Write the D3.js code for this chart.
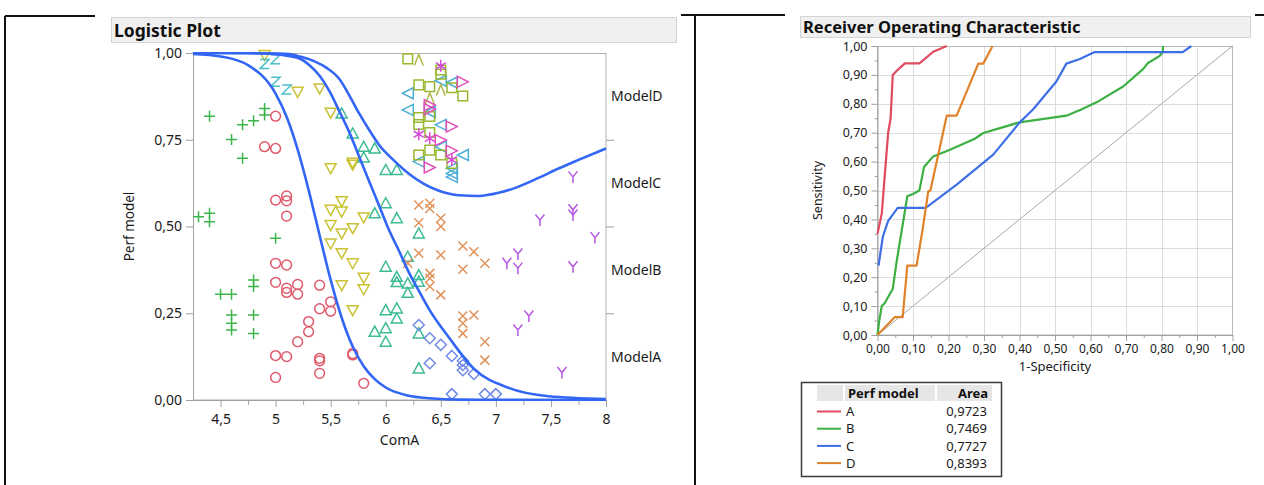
<!DOCTYPE html>
<html><head><meta charset="utf-8">
<script src="https://cdn.jsdelivr.net/npm/d3@7"></script>
<style>body{margin:0;background:#fff}svg{display:block;font-family:"Noto Sans",sans-serif}</style>
</head><body><svg id="c" width="1264" height="485"></svg>
<script>
// ---------------- DATA ----------------
const leftXTickValues = [4.5,5,5.5,6,6.5,7,7.5,8];
const leftXTickLabels = ["4,5","5","5,5","6","6,5","7","7,5","8"];
const leftXMinorTicks = [4.75,5.25,5.75,6.25,6.75,7.25,7.75];
const leftYTickValues = [0,0.25,0.5,0.75,1];
const leftYTickLabels = ["0,00","0,25","0,50","0,75","1,00"];
const levelBoundaries = [0.25,0.5,0.75];
const levelLabels = ["ModelA","ModelB","ModelC","ModelD"];
const levelLabelPos = [0.125,0.375,0.625,0.875];

// fitted cumulative probability curves
const curve1 = [[4.25,0.997],[4.5,0.99],[4.75,0.965],[5.0,0.883],[5.1,0.816],[5.2,0.722],[5.3,0.605],[5.4,0.474],[5.5,0.346],[5.6,0.237],[5.7,0.154],[5.8,0.097],[5.9,0.06],[6.0,0.036],[6.2,0.013],[6.4,0.005],[6.7,0.001],[7.0,0.0003],[8.0,0.0]];
const curve2 = [[4.25,1.0],[4.75,0.9995],[5.066,0.994],[5.217,0.984],[5.308,0.965],[5.398,0.935],[5.489,0.89],[5.579,0.832],[5.669,0.772],[5.76,0.70],[5.85,0.63],[5.94,0.56],[6.03,0.49],[6.12,0.43],[6.21,0.368],[6.30,0.315],[6.393,0.262],[6.574,0.18],[6.80,0.09],[7.116,0.035],[7.478,0.011],[8.0,0.003]];
const curve3 = [[4.25,1.0],[4.75,0.9998],[5.127,0.997],[5.217,0.99],[5.353,0.976],[5.46,0.958],[5.579,0.925],[5.669,0.878],[5.76,0.825],[5.85,0.778],[5.94,0.735],[6.076,0.69],[6.21,0.652],[6.35,0.622],[6.483,0.603],[6.664,0.59],[6.845,0.588],[7.026,0.597],[7.207,0.615],[7.387,0.64],[7.568,0.667],[7.75,0.692],[8.0,0.725]];

// scatter groups  [ComA, jittered prob]
const circlePts = [[5.0,0.818],[4.9,0.73],[5.0,0.725],[5.0,0.576],[5.1,0.588],[5.1,0.574],[5.1,0.53],[5.0,0.394],[5.1,0.389],[5.0,0.339],[5.1,0.322],[5.1,0.31],[5.2,0.333],[5.2,0.305],[5.4,0.331],[5.4,0.263],[5.5,0.283],[5.5,0.256],[5.3,0.226],[5.3,0.197],[5.2,0.168],[5.0,0.128],[5.1,0.125],[5.4,0.12],[5.4,0.113],[5.4,0.077],[5.0,0.065],[5.7,0.134],[5.7,0.13],[5.8,0.048]];
const plusPts = [[4.4,0.818],[4.6,0.751],[4.7,0.793],[4.8,0.805],[4.9,0.84],[4.9,0.821],[4.7,0.697],[4.3,0.528],[4.4,0.538],[4.4,0.514],[5.0,0.466],[4.5,0.305],[4.6,0.305],[4.8,0.346],[4.8,0.327],[4.6,0.245],[4.6,0.221],[4.6,0.202],[4.8,0.245],[4.8,0.192]];
const downTriPts = [[4.9,0.994],[5.2,0.888],[5.4,0.898],[5.5,0.828],[5.5,0.668],[5.7,0.684],[5.7,0.678],[5.6,0.573],[5.5,0.548],[5.6,0.543],[5.8,0.526],[5.5,0.504],[5.6,0.48],[5.7,0.495],[5.5,0.451],[5.6,0.423],[5.7,0.394],[5.8,0.352],[5.8,0.319],[5.6,0.331],[5.7,0.259]];
const zPts = [[4.9,0.968],[5.0,0.982],[5.0,0.917],[5.1,0.895]];
const upTriPts = [[5.6,0.826],[5.7,0.768],[5.8,0.73],[5.9,0.725],[5.8,0.699],[6.0,0.663],[6.1,0.663],[6.0,0.567],[5.9,0.538],[6.1,0.524],[6.3,0.48],[6.2,0.413],[6.0,0.384],[6.1,0.355],[6.1,0.34],[6.2,0.336],[6.3,0.36],[6.3,0.341],[6.2,0.309],[6.0,0.259],[6.1,0.264],[6.1,0.235],[6.0,0.207],[5.9,0.197],[6.0,0.168],[6.3,0.192],[6.3,0.091]];
const diamondPts = [[6.3,0.216],[6.4,0.178],[6.5,0.159],[6.6,0.127],[6.7,0.113],[6.7,0.101],[6.7,0.086],[6.8,0.075],[6.4,0.106],[6.6,0.017],[6.9,0.017],[7.0,0.017]];
const xPts = [[6.3,0.562],[6.4,0.567],[6.4,0.552],[6.3,0.511],[6.5,0.524],[6.5,0.50],[6.3,0.423],[6.5,0.418],[6.7,0.444],[6.8,0.427],[6.7,0.377],[6.9,0.394],[6.4,0.365],[6.4,0.351],[6.4,0.327],[6.5,0.303],[6.7,0.242],[6.8,0.245],[6.7,0.221],[6.7,0.192],[6.9,0.168],[6.9,0.115],[6.2,0.394]];
const yPts = [[7.7,0.643],[7.4,0.519],[7.7,0.548],[7.7,0.533],[7.9,0.468],[7.1,0.394],[7.2,0.421],[7.2,0.38],[7.7,0.384],[7.3,0.242],[7.2,0.202],[7.6,0.079]];
const squarePts = [[6.2,0.983],[6.5,0.951],[6.5,0.939],[6.3,0.908],[6.4,0.903],[6.6,0.90],[6.7,0.876],[6.4,0.817],[6.3,0.814],[6.3,0.794],[6.4,0.771],[6.4,0.72],[6.5,0.706],[6.3,0.706],[6.6,0.682]];
const caretPts = [[6.3,0.98],[6.4,0.869],[6.5,0.893]];
const leftTriPts = [[6.2,0.884],[6.2,0.836],[6.6,0.915],[6.5,0.92],[6.5,0.793],[6.5,0.73],[6.3,0.687],[6.7,0.706],[6.4,0.83],[6.6,0.668],[6.6,0.653],[6.6,0.643]];
const rightTriPts = [[6.7,0.917],[6.6,0.788],[6.5,0.749],[6.6,0.718],[6.4,0.67],[6.4,0.85],[6.4,0.838]];
const starPts = [[6.5,0.963],[6.3,0.766],[6.4,0.754],[6.6,0.692]];

// ROC
const rocTickValues = [0,0.1,0.2,0.3,0.4,0.5,0.6,0.7,0.8,0.9,1];
const rocTickLabels = ["0,00","0,10","0,20","0,30","0,40","0,50","0,60","0,70","0,80","0,90","1,00"];
const rocMinorTicks = [0.05,0.15,0.25,0.35,0.45,0.55,0.65,0.75,0.85,0.95];
const rocA_fpr = [0,0.012,0.03,0.037,0.043,0.055,0.077,0.118,0.157,0.195];
const rocA_tpr = [0.35,0.42,0.70,0.75,0.90,0.915,0.94,0.94,0.98,1.0];
const rocB_fpr = [0,0.005,0.012,0.02,0.043,0.054,0.068,0.084,0.10,0.118,0.131,0.157,0.204,0.274,0.298,0.345,0.40,0.532,0.574,0.617,0.692,0.748,0.762,0.795,0.804,0.804];
const rocB_tpr = [0,0.05,0.10,0.11,0.16,0.255,0.36,0.48,0.488,0.50,0.581,0.618,0.641,0.679,0.699,0.716,0.736,0.759,0.78,0.805,0.86,0.92,0.941,0.966,0.979,1.0];
const rocC_fpr = [0.003,0.015,0.03,0.057,0.136,0.223,0.326,0.40,0.438,0.504,0.532,0.57,0.612,0.86,0.884];
const rocC_tpr = [0.24,0.34,0.395,0.44,0.44,0.52,0.624,0.735,0.78,0.877,0.939,0.955,0.979,0.979,1.0];
const rocD_fpr = [0,0.049,0.071,0.084,0.11,0.127,0.143,0.149,0.195,0.223,0.284,0.298,0.324];
const rocD_tpr = [0,0.062,0.062,0.24,0.24,0.364,0.497,0.50,0.759,0.759,0.939,0.939,1.0];
const perfModels = ["A","B","C","D"];
const areas = ["0,9723","0,7469","0,7727","0,8393"];

// ---------------- DRAW ----------------
const svg = d3.select("#c");
const rocColors = ["#e04a5e","#3cb043","#3f6fe6","#e0822a"];

// outer table frame lines
svg.append("path").attr("d","M5,16H95M5,16V485M681,15H785M695,15V485M1255,15H1264")
  .attr("stroke","#111").attr("stroke-width",2).attr("fill","none");

// ===== Left: Logistic plot =====
svg.append("rect").attr("x",111.5).attr("y",17.5).attr("width",565).attr("height",25)
  .attr("fill","#f0f0f0").attr("stroke","#d4d4d4");
svg.append("text").attr("x",114).attr("y",37).attr("font-size",17.5).attr("font-weight","bold")
  .attr("fill","#111").text("Logistic Plot");

const xL = d3.scaleLinear([4.25,8],[193,606]);
const yL = d3.scaleLinear([0,1],[400,53]);

svg.append("defs").append("clipPath").attr("id","clipL").append("rect")
  .attr("x",193).attr("y",52).attr("width",414).attr("height",349);

svg.append("rect").attr("x",193.5).attr("y",53.5).attr("width",412.5).attr("height",346.5)
  .attr("fill","none").attr("stroke","#b0b0b0");

const styleAxis = (g, fs) => {
  g.select(".domain").attr("stroke","#a0a0a0");
  g.selectAll(".tick line").attr("stroke","#a0a0a0");
  g.selectAll(".tick text").attr("fill","#1a1a1a").attr("font-size",fs).attr("font-family","Noto Sans");
};

svg.append("g").attr("transform","translate(0,400)")
  .call(d3.axisBottom(xL).tickValues(leftXMinorTicks).tickSize(5).tickFormat("").tickSizeOuter(0))
  .call(g=>{g.select(".domain").remove();g.selectAll(".tick line").attr("stroke","#a0a0a0");});
svg.append("g").attr("transform","translate(0,400)")
  .call(d3.axisBottom(xL).tickValues(leftXTickValues).tickSize(7).tickPadding(7).tickSizeOuter(0)
    .tickFormat((d,i)=>leftXTickLabels[i]))
  .call(g=>styleAxis(g,14));
svg.append("g").attr("transform","translate(193,0)")
  .call(d3.axisLeft(yL).tickValues(leftYTickValues).tickSize(7).tickPadding(4).tickSizeOuter(0)
    .tickFormat((d,i)=>leftYTickLabels[i]))
  .call(g=>styleAxis(g,14));
svg.append("g").attr("transform","translate(606,0)")
  .call(d3.axisRight(yL).tickValues(levelBoundaries).tickSize(8).tickFormat(""))
  .call(g=>{g.select(".domain").remove();g.selectAll(".tick line").attr("stroke","#a0a0a0");});

svg.selectAll("text.lvl").data(levelLabels).join("text").attr("class","lvl")
  .attr("x",611).attr("y",(d,i)=>yL(levelLabelPos[i])).attr("dy","0.36em")
  .attr("font-size",14).attr("fill","#1a1a1a").text(d=>d);

svg.append("text").attr("x",xL(6.125)).attr("y",445).attr("text-anchor","middle")
  .attr("font-size",14).attr("fill","#1a1a1a").text("ComA");
svg.append("text").attr("transform",`translate(134,${yL(0.5)}) rotate(-90)`).attr("text-anchor","middle")
  .attr("font-size",13.5).attr("fill","#1a1a1a").text("Perf model");

// markers
const shapes = {
  plus:"M-5.5,0H5.5M0,-5.5V5.5",
  down:"M-5.5,-4.5L5.5,-4.5L0,5.5Z",
  up:"M-5.5,4.5L5.5,4.5L0,-5.5Z",
  z:"M-4.5,-4.5H4.5L-4.5,4.5H4.5",
  diamond:"M0,-5.5L5.5,0L0,5.5L-5.5,0Z",
  x:"M-4.5,-4.5L4.5,4.5M4.5,-4.5L-4.5,4.5",
  y:"M-4.5,-5.5L0,0L4.5,-5.5M0,0V6",
  square:"M-4.8,-4.8H4.8V4.8H-4.8Z",
  caret:"M-4.5,5.5L0,-5.5L4.5,5.5",
  left:"M5.5,-5.5L-5.5,0L5.5,5.5Z",
  right:"M-5.5,-5.5L5.5,0L-5.5,5.5Z",
  star:"M0,-6V6M-5,-3.2L5,3.2M5,-3.2L-5,3.2"
};
const groups = [
  {pts:circlePts, shape:"circle", color:"#e05a6c"},
  {pts:plusPts, shape:"plus", color:"#3cb44a"},
  {pts:downTriPts, shape:"down", color:"#c9c234"},
  {pts:zPts, shape:"z", color:"#4cc0c8"},
  {pts:upTriPts, shape:"up", color:"#3dbb95"},
  {pts:diamondPts, shape:"diamond", color:"#6f8be6"},
  {pts:xPts, shape:"x", color:"#e0925a"},
  {pts:yPts, shape:"y", color:"#b358e0"},
  {pts:leftTriPts, shape:"left", color:"#4aaed8"},
  {pts:squarePts, shape:"square", color:"#98b830"},
  {pts:caretPts, shape:"caret", color:"#b0b848"},
  {pts:rightTriPts, shape:"right", color:"#e050b8"},
  {pts:starPts, shape:"star", color:"#d84ad8"}
];
const mg = svg.append("g").attr("fill","none").attr("stroke-width",1.5);
groups.forEach(gr=>{
  const g = mg.append("g").attr("stroke",gr.color);
  if(gr.shape==="circle"){
    g.selectAll("circle").data(gr.pts).join("circle")
      .attr("cx",d=>xL(d[0])).attr("cy",d=>yL(d[1])).attr("r",4.9);
  } else {
    g.selectAll("path").data(gr.pts).join("path")
      .attr("transform",d=>`translate(${xL(d[0])},${yL(d[1])})`).attr("d",shapes[gr.shape]);
  }
});

const lineL = d3.line().x(d=>xL(d[0])).y(d=>yL(d[1])).curve(d3.curveMonotoneX);
svg.append("g").attr("clip-path","url(#clipL)").selectAll("path").data([curve1,curve2,curve3]).join("path")
  .attr("d",lineL).attr("fill","none").attr("stroke","#3366f5").attr("stroke-width",2.6);

// ===== Right: ROC =====
svg.append("rect").attr("x",800.5).attr("y",16.5).attr("width",450).attr("height",21)
  .attr("fill","#f0f0f0").attr("stroke","#d4d4d4");
svg.append("text").attr("x",803).attr("y",33).attr("font-size",16.5).attr("font-weight","bold")
  .attr("fill","#111").text("Receiver Operating Characteristic");

const xR = d3.scaleLinear([0,1],[877.5,1232.5]);
const yR = d3.scaleLinear([0,1],[335,46]);

const grid = svg.append("g").attr("stroke","#dcdcdc").attr("stroke-width",1);
grid.selectAll("line.v").data(rocTickValues.slice(1,-1)).join("line").attr("class","v")
  .attr("x1",d=>Math.round(xR(d))+0.5).attr("x2",d=>Math.round(xR(d))+0.5).attr("y1",yR(0)).attr("y2",yR(1));
grid.selectAll("line.h").data(rocTickValues.slice(1,-1)).join("line").attr("class","h")
  .attr("y1",d=>Math.round(yR(d))+0.5).attr("y2",d=>Math.round(yR(d))+0.5).attr("x1",xR(0)).attr("x2",xR(1));
svg.append("rect").attr("x",877.5).attr("y",46.5).attr("width",355).attr("height",288.5)
  .attr("fill","none").attr("stroke","#b8b8b8");

svg.append("g").attr("transform","translate(0,335)")
  .call(d3.axisBottom(xR).tickValues(rocMinorTicks).tickSize(3).tickFormat("").tickSizeOuter(0))
  .call(g=>{g.select(".domain").remove();g.selectAll(".tick line").attr("stroke","#a0a0a0");});
svg.append("g").attr("transform","translate(0,335)")
  .call(d3.axisBottom(xR).tickValues(rocTickValues).tickSize(6).tickPadding(3).tickSizeOuter(0)
    .tickFormat((d,i)=>rocTickLabels[i]))
  .call(g=>styleAxis(g,12));
svg.append("g").attr("transform","translate(877.5,0)")
  .call(d3.axisLeft(yR).tickValues(rocMinorTicks).tickSize(3).tickFormat("").tickSizeOuter(0))
  .call(g=>{g.select(".domain").remove();g.selectAll(".tick line").attr("stroke","#a0a0a0");});
svg.append("g").attr("transform","translate(877.5,0)")
  .call(d3.axisLeft(yR).tickValues(rocTickValues).tickSize(6).tickPadding(4).tickSizeOuter(0)
    .tickFormat((d,i)=>rocTickLabels[i]))
  .call(g=>styleAxis(g,12.5));

svg.append("text").attr("x",(xR(0)+xR(1))/2).attr("y",371).attr("text-anchor","middle")
  .attr("font-size",13).attr("fill","#1a1a1a").text("1-Specificity");
svg.append("text").attr("transform",`translate(822,${yR(0.5)}) rotate(-90)`).attr("text-anchor","middle")
  .attr("font-size",12.5).attr("fill","#1a1a1a").text("Sensitivity");

svg.append("line").attr("x1",xR(0)).attr("y1",yR(0)).attr("x2",xR(1)).attr("y2",yR(1))
  .attr("stroke","#a8a8a8").attr("stroke-width",1);

const rocSeries = [[rocA_fpr,rocA_tpr],[rocB_fpr,rocB_tpr],[rocC_fpr,rocC_tpr],[rocD_fpr,rocD_tpr]];
const lineR = d3.line().x(d=>xR(d[0])).y(d=>yR(d[1]));
svg.append("g").selectAll("path").data(rocSeries).join("path")
  .attr("d",s=>lineR(s[0].map((f,i)=>[f,s[1][i]])))
  .attr("fill","none").attr("stroke",(d,i)=>rocColors[i]).attr("stroke-width",2.2)
  .attr("stroke-linejoin","round");

// legend table
svg.append("rect").attr("x",801.5).attr("y",382.5).attr("width",200).attr("height",94)
  .attr("fill","#fff").attr("stroke","#3a3a3a").attr("stroke-width",1.5);
const hdr = svg.append("g").attr("fill","#e6e6e6");
hdr.append("rect").attr("x",817).attr("y",385).attr("width",26).attr("height",16);
hdr.append("rect").attr("x",845).attr("y",385).attr("width",90).attr("height",16);
hdr.append("rect").attr("x",937).attr("y",385).attr("width",55).attr("height",16);
svg.append("text").attr("x",848).attr("y",398).attr("font-size",13).attr("font-weight","bold")
  .attr("fill","#111").text("Perf model");
svg.append("text").attr("x",988).attr("y",398).attr("text-anchor","end").attr("font-size",13)
  .attr("font-weight","bold").attr("fill","#111").text("Area");
const rowY = i => 411.5 + i*17.2;
const rows = svg.append("g").selectAll("g").data(perfModels).join("g");
rows.append("line").attr("x1",817).attr("x2",841).attr("y1",(d,i)=>rowY(i)).attr("y2",(d,i)=>rowY(i))
  .attr("stroke",(d,i)=>rocColors[i]).attr("stroke-width",2);
rows.append("text").attr("x",846).attr("y",(d,i)=>rowY(i)).attr("dy","0.36em").attr("font-size",13)
  .attr("fill","#1a1a1a").text(d=>d);
rows.append("text").attr("x",987).attr("y",(d,i)=>rowY(i)).attr("dy","0.36em").attr("text-anchor","end")
  .attr("font-size",13).attr("fill","#1a1a1a").text((d,i)=>areas[i]);
</script></body></html>
